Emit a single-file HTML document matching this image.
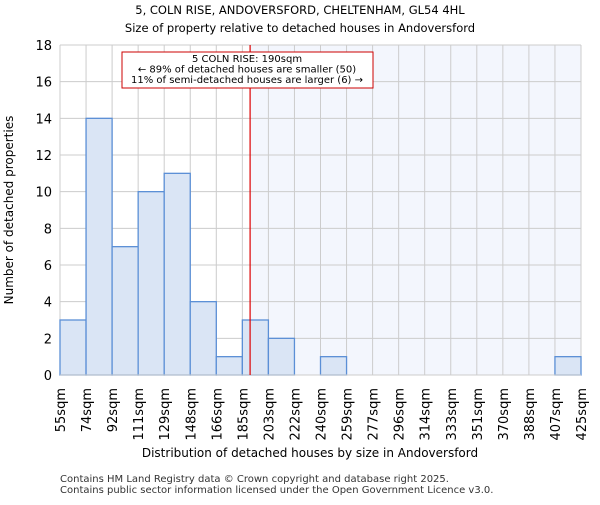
<!DOCTYPE html>
<html><head><meta charset="utf-8"><style>body{margin:0;background:#fff}svg{font-family:"DejaVu Sans","Liberation Sans",sans-serif}</style></head>
<body>
<svg width="600" height="500" viewBox="0 0 600 500" xmlns="http://www.w3.org/2000/svg">
<text x="300" y="14" text-anchor="middle" font-size="11.5">5, COLN RISE, ANDOVERSFORD, CHELTENHAM, GL54 4HL</text>
<text x="300" y="32" text-anchor="middle" font-size="11.5">Size of property relative to detached houses in Andoversford</text>
<g id="plot"></g>
<text x="310" y="457" text-anchor="middle" font-size="12">Distribution of detached houses by size in Andoversford</text>
<text transform="translate(13,210) rotate(-90)" text-anchor="middle" font-size="12">Number of detached properties</text>
<text x="60" y="482" font-size="10" fill="#333">Contains HM Land Registry data © Crown copyright and database right 2025.</text>
<text x="60" y="493" font-size="10" fill="#333">Contains public sector information licensed under the Open Government Licence v3.0.</text>
</svg>
<script>
const binLabels=["55sqm","74sqm","92sqm","111sqm","129sqm","148sqm","166sqm","185sqm","203sqm","222sqm","240sqm","259sqm","277sqm","296sqm","314sqm","333sqm","351sqm","370sqm","388sqm","407sqm","425sqm"];
const binEdges=[55,73.5,92,110.5,129,147.5,166,184.5,203,221.5,240,258.5,277,295.5,314,332.5,351,369.5,388,406.5,425];
const counts=[3,14,7,10,11,4,1,3,2,0,1,0,0,0,0,0,0,0,0,1];
const yTicks=[0,2,4,6,8,10,12,14,16,18];
const propertySize=190;
const NS="http://www.w3.org/2000/svg";
const X0=60,X1=581,Y0=375,Y1=45;
const xs=v=>X0+(v-binEdges[0])/(binEdges[binEdges.length-1]-binEdges[0])*(X1-X0);
const ys=v=>Y0-v/18*(Y0-Y1);
const g=document.getElementById('plot');
function mk(t,a){const e=document.createElementNS(NS,t);for(const k in a)e.setAttribute(k,a[k]);g.appendChild(e);return e;}
const px=xs(propertySize);
let e=mk('rect',{x:px,y:Y1,width:X1-px,height:Y0-Y1,fill:'#f3f6fd'});


yTicks.forEach(t=>{let l=mk('line',{x1:X0,x2:X1,y1:ys(t),y2:ys(t),stroke:'#ccc'});


let tx=mk('text',{x:X0-8,y:ys(t)+5,'text-anchor':'end','font-size':'13'});tx.textContent=t;

});
binEdges.forEach((b,i)=>{let l=mk('line',{x1:xs(b),x2:xs(b),y1:Y1,y2:Y0,stroke:'#ccc'});


let tx=mk('text',{transform:`translate(${xs(b)+5},388) rotate(-90)`,'text-anchor':'end','font-size':'13'});tx.textContent=binLabels[i];

});
counts.forEach((c,i)=>{if(c<=0)return;const x=xs(binEdges[i]),w=xs(binEdges[i+1])-x;
let r=mk('rect',{x:x,y:ys(c),width:w,height:ys(0)-ys(c),fill:'#dae5f5',stroke:'#5b8fd6','stroke-width':1.3});

});
e=mk('line',{x1:X0,x2:X1,y1:Y0,y2:Y0,stroke:'#ccc'});


e=mk('line',{x1:px,x2:px,y1:Y1,y2:Y0,stroke:'#d00','stroke-width':1.2});


e=mk('rect',{x:122,y:52,width:251,height:36,fill:'#fff',stroke:'#c00','stroke-width':1});


["5 COLN RISE: 190sqm","← 89% of detached houses are smaller (50)","11% of semi-detached houses are larger (6) →"].forEach((s,i)=>{
let t=mk('text',{x:247,y:62+i*10.5,'text-anchor':'middle','font-size':'10'});t.textContent=s;

});
</script>
</body></html>
